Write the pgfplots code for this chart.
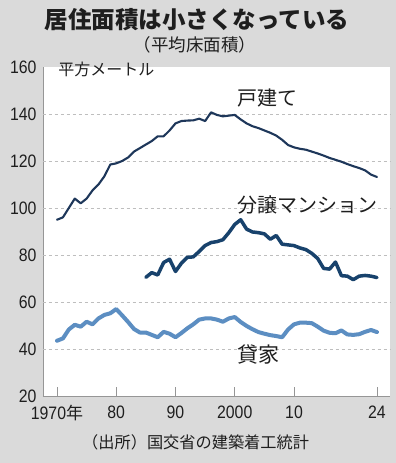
\documentclass[border=0pt]{standalone}
\usepackage{pgfplots}
\pgfplotsset{compat=1.18}
\usepackage{pgfplotstable}
\usepackage{fontspec}
\setmainfont{Noto Sans CJK JP}
\newfontfamily\numfont[FakeStretch=0.88]{Liberation Sans}
\definecolor{bggray}{RGB}{218,218,218}
\definecolor{axgray}{RGB}{150,150,150}
\definecolor{gridgray}{RGB}{190,190,190}
\definecolor{detached}{RGB}{30,55,90}
\definecolor{condo}{RGB}{24,66,108}
\definecolor{rental}{RGB}{92,142,194}
\definecolor{txt}{RGB}{30,30,30}

\pgfplotstableread{
year val
1970 95
1971 96
1972 100
1973 104
1974 102
1975 104
1976 107.5
1977 110
1978 113.5
1979 118.5
1980 119
1981 120
1982 121.5
1983 124
1984 125.5
1985 127
1986 128.5
1987 130.5
1988 130.5
1989 133
1990 136
1991 137
1992 137.2
1993 137.3
1994 138
1995 137
1996 140.7
1997 139.6
1998 139
1999 139.3
2000 139.6
2001 137.7
2002 136
2003 134.8
2004 134
2005 133
2006 132
2007 130.8
2008 129
2009 126.8
2010 125.8
2011 125.2
2012 124.8
2013 124
2014 123.2
2015 122.3
2016 121.3
2017 120.5
2018 119.7
2019 118.7
2020 117.8
2021 117
2022 116
2023 114.2
2024 113.2
}\detachedtable

\pgfplotstableread{
year val
1985 70.5
1986 72.5
1987 71.5
1988 76.8
1989 78.2
1990 73
1991 76.5
1992 79
1993 79.2
1994 81.5
1995 84
1996 85.3
1997 85.7
1998 86.5
1999 89.5
2000 93
2001 95
2002 91
2003 89.8
2004 89.5
2005 89
2006 86.7
2007 88.3
2008 84.6
2009 84.3
2010 84
2011 83
2012 82.3
2013 80.7
2014 78.5
2015 74.3
2016 74
2017 77
2018 71.2
2019 71
2020 69.5
2021 71
2022 71.3
2023 71
2024 70.4
}\condotable

\pgfplotstableread{
year val
1970 43.5
1971 44.5
1972 48.3
1973 50.3
1974 49.5
1975 51.6
1976 50.5
1977 53
1978 54.5
1979 55.2
1980 57
1981 54.3
1982 51.5
1983 48.5
1984 47
1985 47
1986 46
1987 45
1988 47.3
1989 46.5
1990 45
1991 46.8
1992 48.8
1993 50.5
1994 52.5
1995 53
1996 53
1997 52.5
1998 51.6
1999 53
2000 53.6
2001 51.5
2002 49.8
2003 48.4
2004 47.2
2005 46.5
2006 45.9
2007 45.5
2008 45
2009 48.3
2010 50.5
2011 51.2
2012 51.2
2013 51
2014 49.5
2015 47.8
2016 46.9
2017 46.7
2018 47.9
2019 46.2
2020 46
2021 46.3
2022 47.3
2023 48.1
2024 47.2
}\rentaltable

\begin{document}
\begin{tikzpicture}
\fill[bggray] (0,0) rectangle (396bp,463bp);
\begin{axis}[
  at={(43bp,67bp)}, anchor=south west,
  scale only axis, width=347bp, height=329bp,
  xmin=1967.64, xmax=2026.2, ymin=20, ymax=160,
  clip=false,
  axis background/.style={fill=white},
  axis x line*=bottom, axis y line*=left,
  axis line style={draw=axgray, line width=0.8bp, -},
  tick align=inside,
  major tick length=9bp,
  tick style={draw=axgray, line width=0.8bp},
  xtick={1970,1980,1990,2000,2010,2024},
  xticklabels={{1970{\rmfamily\fontsize{17bp}{17bp}\selectfont 年}},80,90,2000,10,24},
  ytick={20,40,60,80,100,120,140,160},
  yticklabels={20,40,60,80,100,120,140,160},
  ytick style={draw=none},
  extra y ticks={40,60,80,100,120,140},
  extra y tick labels={},
  extra y tick style={grid=major, major grid style={draw=gridgray, dashed, line width=0.6bp}, tick style={draw=none}},
  tick label style={font=\numfont\fontsize{18bp}{18bp}\selectfont, text=txt},
  yticklabel style={anchor=east, xshift=-3bp},
  xticklabel style={anchor=north, yshift=-6bp},
]
\addplot[rental, line width=4bp, line join=round, line cap=round] table[x=year, y=val] {\rentaltable};
\addplot[condo, line width=3.5bp, line join=round, line cap=round] table[x=year, y=val] {\condotable};
\addplot[detached, line width=2.1bp, line join=round, line cap=round] table[x=year, y=val] {\detachedtable};
\node[anchor=west, text=txt, font=\fontsize{20bp}{20bp}\selectfont, inner sep=0pt] at (axis cs:2000.4,146.8) {戸建て};
\node[anchor=west, text=txt, font=\fontsize{20bp}{20bp}\selectfont, inner sep=0pt] at (axis cs:2000.4,101.3) {分譲マンション};
\node[anchor=west, text=txt, font=\fontsize{21bp}{21bp}\selectfont, inner sep=0pt] at (axis cs:2000.4,37.5) {貸家};
\node[anchor=west, text=txt, font=\fontsize{16bp}{16bp}\selectfont, inner sep=0pt] at (axis cs:1970.2,159.1) {平方メートル};
\end{axis}
\node[text=txt, font=\bfseries\fontsize{23.5bp}{23.5bp}\selectfont, inner sep=0pt] at (197bp,443bp) {居住面積は小さくなっている};
\node[text=txt, font=\fontsize{17.5bp}{17.5bp}\selectfont, inner sep=0pt] at (195bp,418bp) {（平均床面積）};
\node[anchor=west, text=txt, font=\fontsize{16.2bp}{16.2bp}\selectfont, inner sep=0pt] at (82bp,21bp) {（出所）国交省の建築着工統計};
\end{tikzpicture}
\end{document}
